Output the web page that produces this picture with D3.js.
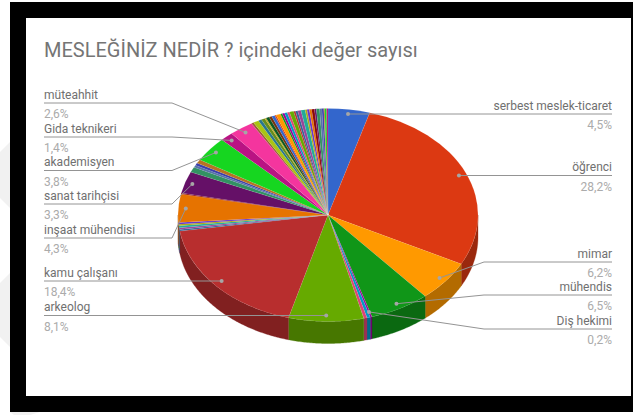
<!DOCTYPE html>
<html>
<head>
<meta charset="utf-8">
<script src="https://cdnjs.cloudflare.com/ajax/libs/d3/7.8.5/d3.min.js"></script>
<style>
  html, body { margin: 0; padding: 0; background: #fff; }
  svg { display: block; font-family: Roboto, sans-serif; }
</style>
</head>
<body>
<div id="chart"></div>
<script>
// share of every slice, clockwise from 12 o'clock (unlabelled ones are estimates)
const sliceValues = [
  4.5, 28.2, 6.2, 6.5, 0.2, 0.35, 0.35, 8.1, 18.4,
  0.25, 0.25, 0.3, 0.25, 0.25, 4.3, 0.15, 3.3,
  0.8, 0.35, 0.35, 0.6, 3.8, 1.4, 2.6,
  0.25, 0.6, 0.35, 0.4, 0.15, 0.35, 0.3, 0.35, 0.15, 0.5, 0.2, 0.25,
  0.3, 0.25, 0.45, 0.2, 0.25, 0.35, 0.45, 0.2, 0.25, 0.25, 0.3, 0.2,
  0.35, 0.25, 0.2, 0.1, 0.2, 0.15
];

const googleColors = [
  "#3366cc", "#dc3912", "#ff9900", "#109618", "#990099", "#0099c6", "#dd4477",
  "#66aa00", "#b82e2e", "#316395", "#994499", "#22aa99", "#aaaa11", "#6633cc",
  "#e67300", "#8b0707", "#651067", "#329262", "#5574a6", "#3b3eac", "#b77322",
  "#16d620", "#b91383", "#f4359e", "#9c5935", "#a9c413", "#2a778d", "#668d1c",
  "#bea413", "#0c5922", "#743411"
];

// labelled slices: index into sliceValues, name, printed percent
const rightSlices = [0, 1, 2, 3, 4];
const rightNames = ["serbest meslek-ticaret", "öğrenci", "mimar", "mühendis", "Diş hekimi"];
const rightPercents = ["4,5%", "28,2%", "6,2%", "6,5%", "0,2%"];

const leftSlices = [23, 22, 21, 16, 14, 8, 7];
const leftNames = ["müteahhit", "Gida teknikeri", "akademisyen", "sanat tarihçisi", "inşaat mühendisi", "kamu çalışanı", "arkeolog"];
const leftPercents = ["2,6%", "1,4%", "3,8%", "3,3%", "4,3%", "18,4%", "8,1%"];

const title = "MESLEĞİNİZ NEDİR ? içindeki değer sayısı";

// layout
const width = 633, height = 415;
const cx = 328, cy = 215, rx = 150, ry = 106.5, depth = 22;
const leftX = 44, leftElbow = 172, rightX = 612, rightElbow = 484;
const leftRules = [103, 137, 170.5, 204, 238, 281, 315.5];
const rightRules = [114, 175.5, 262, 295, 329];

const svg = d3.select("#chart").append("svg")
  .attr("width", width)
  .attr("height", height);

// faint watermark showing around the screenshot
svg.selectAll("polygon.mark")
  .data([
    [[0, 152], [10, 142], [10, 208], [0, 198]],
    [[0, 283], [10, 273], [10, 347], [0, 337]],
    [[10, 412], [40, 412], [30, 415], [14, 415]]
  ])
  .enter().append("polygon")
  .attr("class", "mark")
  .attr("points", d => d.join(" "))
  .attr("fill", "#f1f1f1");

// black frame and white chart area
svg.append("rect").attr("x", 10).attr("y", 2).attr("width", 623).attr("height", 410).attr("fill", "#000");
svg.append("rect").attr("x", 26).attr("y", 18).attr("width", 605).attr("height", 378).attr("fill", "#fff");

svg.append("text")
  .attr("x", leftX)
  .attr("y", 57)
  .attr("font-size", 20)
  .attr("fill", "#757575")
  .text(title);

const color = d3.scaleOrdinal().domain(d3.range(googleColors.length)).range(googleColors);
const sliceColor = i => color(i % googleColors.length);

const pie = d3.pie().sort(null).value(d => d);
const slices = pie(sliceValues);

// point on the rim of the top ellipse, angle clockwise from 12 o'clock
const rimX = a => cx + rx * Math.sin(a);
const rimY = a => cy - ry * Math.cos(a);

// front wall, only the part between 3 o'clock and 9 o'clock is visible
const wall = d3.area()
  .x(a => rimX(a))
  .y0(a => rimY(a))
  .y1(a => rimY(a) + depth);

svg.append("g").selectAll("path")
  .data(slices.filter(d => d.endAngle > Math.PI / 2 && d.startAngle < Math.PI * 1.5))
  .enter().append("path")
  .attr("d", d => {
    const a0 = Math.max(d.startAngle, Math.PI / 2);
    const a1 = Math.min(d.endAngle, Math.PI * 1.5);
    return wall(d3.range(a0, a1, 0.01).concat(a1));
  })
  .attr("fill", d => d3.color(sliceColor(d.index)).darker(1))
  .attr("stroke", d => d3.color(sliceColor(d.index)).darker(1))
  .attr("stroke-width", 0.3);

// top of the pie
const arc = d3.arc().innerRadius(0).outerRadius(rx);

svg.append("g")
  .attr("transform", `translate(${cx},${cy}) scale(1,${ry / rx})`)
  .selectAll("path")
  .data(slices)
  .enter().append("path")
  .attr("d", arc)
  .attr("fill", d => sliceColor(d.index))
  .attr("stroke", "#fff")
  .attr("stroke-opacity", 0.15)
  .attr("stroke-width", 0.5);

// leader lines with dot near the rim of the slice
const dotX = s => { const a = (s.startAngle + s.endAngle) / 2; return cx + 0.95 * rx * Math.sin(a); };
const dotY = s => { const a = (s.startAngle + s.endAngle) / 2; return cy - 0.95 * ry * Math.cos(a); };

function drawLabels(ids, names, percents, rules, textX, elbowX, anchor) {
  const rows = ids.map((id, i) => ({ s: slices[id], name: names[i], pct: percents[i], y: rules[i] }));
  const g = svg.append("g").selectAll("g").data(rows).enter().append("g");

  g.append("polyline")
    .attr("points", d => {
      const x = dotX(d.s), y = dotY(d.s);
      // flat rule when the dot is level with it, otherwise bend at the elbow
      if (Math.abs(y - d.y) < 1.5) return [[textX, d.y], [x, d.y]].join(" ");
      return [[textX, d.y], [elbowX, d.y], [x, y]].join(" ");
    })
    .attr("fill", "none")
    .attr("stroke", "#949494")
    .attr("stroke-width", 1);

  g.append("circle")
    .attr("cx", d => dotX(d.s))
    .attr("cy", d => Math.abs(dotY(d.s) - d.y) < 1.5 ? d.y : dotY(d.s))
    .attr("r", 2)
    .attr("fill", "#a6a6a6");

  g.append("text")
    .attr("x", textX)
    .attr("y", d => d.y - 4.5)
    .attr("text-anchor", anchor)
    .attr("font-size", 12)
    .attr("fill", "#707070")
    .text(d => d.name);

  g.append("text")
    .attr("x", textX)
    .attr("y", d => d.y + 15)
    .attr("text-anchor", anchor)
    .attr("font-size", 12)
    .attr("fill", "#ababab")
    .text(d => d.pct);
}

drawLabels(leftSlices, leftNames, leftPercents, leftRules, leftX, leftElbow, "start");
drawLabels(rightSlices, rightNames, rightPercents, rightRules, rightX, rightElbow, "end");
</script>
</body>
</html>
